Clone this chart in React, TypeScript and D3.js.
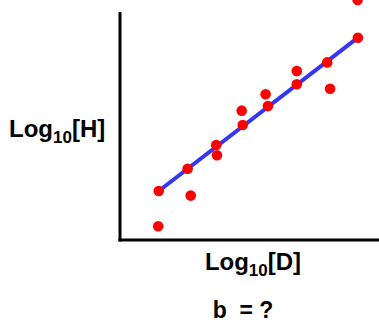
import React from 'react';
import * as d3 from 'd3';

// measured points (arbitrary log units)
const xValues = [1.49, 1.47, 2.6, 2.72, 3.7, 3.73, 4.68, 4.72, 5.6, 5.69, 6.8, 6.8, 7.97, 8.08, 9.15, 9.14];
const yValues = [2.04, 0.57, 2.97, 1.85, 3.96, 3.53, 5.39, 4.79, 6.07, 5.58, 7.04, 6.49, 7.4, 6.3, 8.43, 10.0];
// fitted line endpoints
const fitX = [1.49, 9.15];
const fitY = [2.04, 8.43];

const W = 379;
const H = 324;

export default function App() {
  const x = d3.scaleLinear().domain([0, 10]).range([120, 380]);
  const y = d3.scaleLinear().domain([0, 10]).range([240, 0]);

  const fit = d3.line<number>()
    .x((d) => x(fitX[d]))
    .y((d) => y(fitY[d]));

  const font = "'Liberation Sans', Arial, sans-serif";

  return (
    <svg width={W} height={H} style={{ position: 'absolute', left: 0, top: 0, background: '#fff' }}>
      {/* axes */}
      <line x1={x(0)} y1={12} x2={x(0)} y2={y(0) + 1.5} stroke="#000" strokeWidth={3} />
      <line x1={x(0) - 1.5} y1={y(0)} x2={W} y2={y(0)} stroke="#000" strokeWidth={3} />

      {/* regression line */}
      <path d={fit([0, 1]) || ''} stroke="#3535f5" strokeWidth={4} fill="none" />

      {/* points */}
      {xValues.map((v, i) => (
        <circle key={i} cx={x(v)} cy={y(yValues[i])} r={5.3} fill="#ff0000" />
      ))}

      {/* labels */}
      <text x={9} y={137} fontFamily={font} fontWeight="bold" fontSize={24} fill="#000">
        Log<tspan fontSize={17} dy={6}>10</tspan><tspan dy={-6}>[H]</tspan>
      </text>
      <text x={253} y={270} textAnchor="middle" fontFamily={font} fontWeight="bold" fontSize={24} fill="#000">
        Log<tspan fontSize={17} dy={6}>10</tspan><tspan dy={-6}>[D]</tspan>
      </text>
      <text x={243} y={318} textAnchor="middle" fontFamily={font} fontWeight="bold" fontSize={23} fill="#000" style={{ whiteSpace: 'pre' }}>
        {'b  = ?'}
      </text>
    </svg>
  );
}
